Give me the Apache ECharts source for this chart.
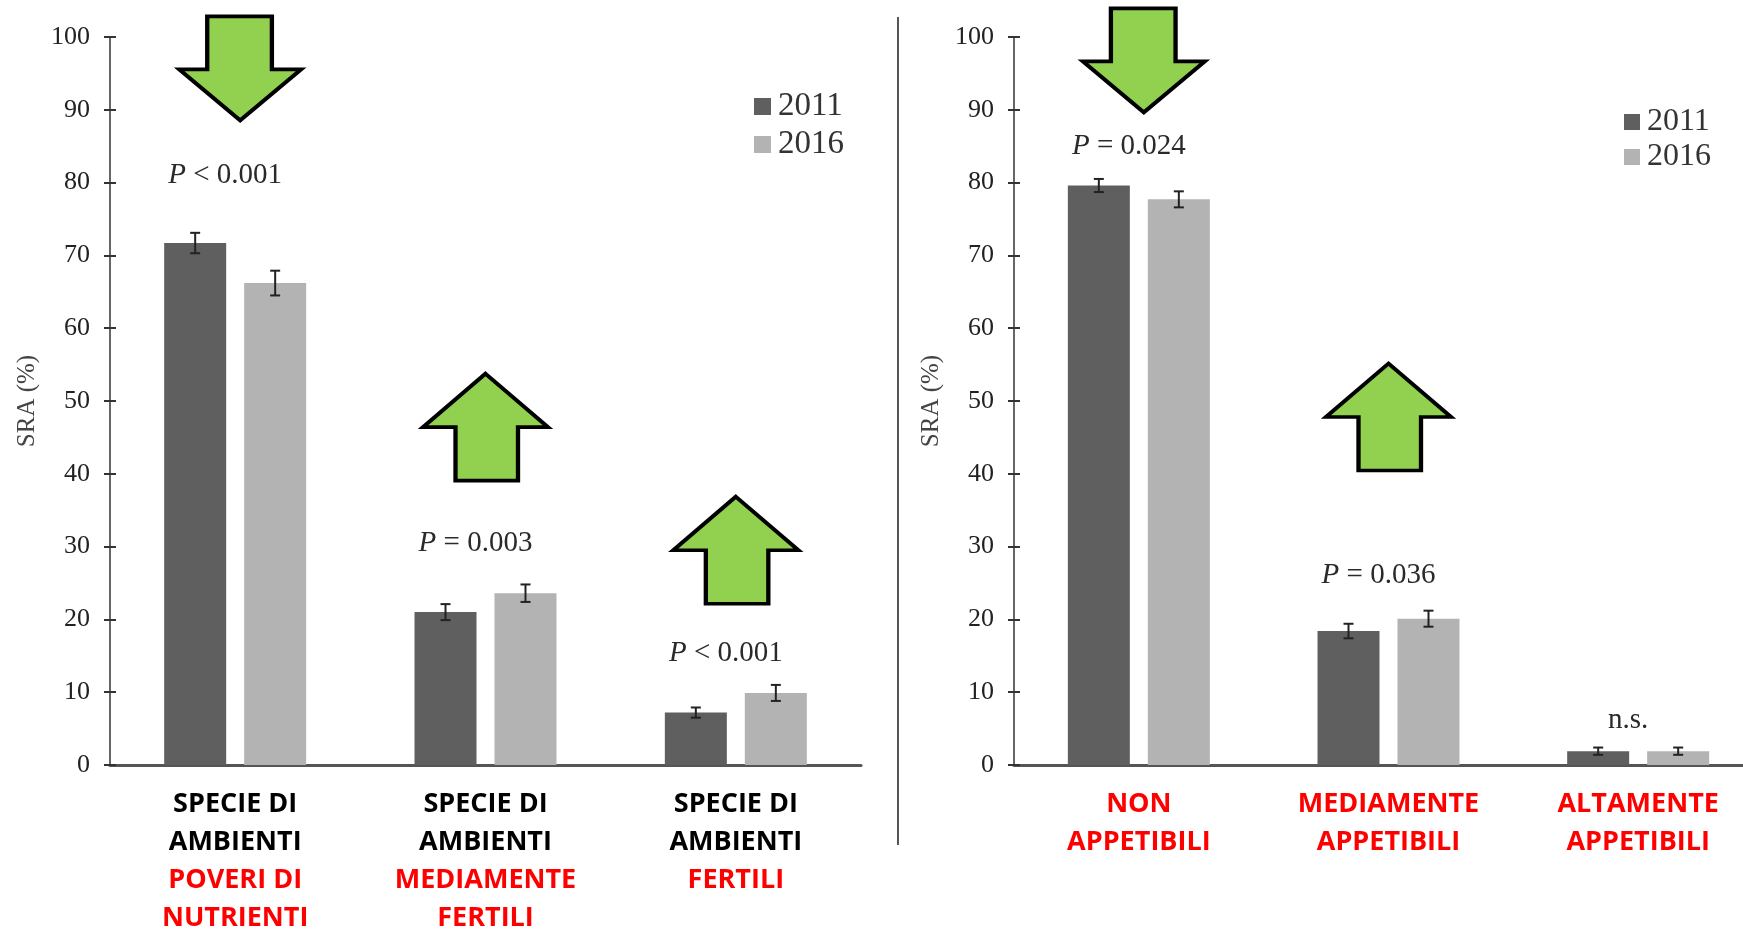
<!DOCTYPE html>
<html>
<head>
<meta charset="utf-8">
<style>
  html, body { margin: 0; padding: 0; background: #fff; }
  #myChart { width: 1743px; height: 929px; }
</style>
<script src="https://cdn.jsdelivr.net/npm/echarts@6/dist/echarts.min.js"></script>
</head>
<body>
<div id="myChart"></div>
<script>
// categorie (testo nero + testo rosso)
const leftBlack = ['SPECIE DI\nAMBIENTI', 'SPECIE DI\nAMBIENTI', 'SPECIE DI\nAMBIENTI']
const leftRed = ['POVERI DI\nNUTRIENTI', 'MEDIAMENTE\nFERTILI', 'FERTILI']
const rightRed = ['NON\nAPPETIBILI', 'MEDIAMENTE\nAPPETIBILI', 'ALTAMENTE\nAPPETIBILI']
const years = ['2011', '2016']
const yTicks = [0, 100, 10]

// SRA (%) e errori
const left2011 = [71.7, 21.0, 7.2]
const left2011Err = [1.4, 1.1, 0.7]
const left2016 = [66.2, 23.6, 9.9]
const left2016Err = [1.7, 1.2, 1.1]
const right2011 = [79.6, 18.4, 1.9]
const right2011Err = [0.9, 1.0, 0.5]
const right2016 = [77.7, 20.1, 1.9]
const right2016Err = [1.1, 1.1, 0.5]

// annotazioni P (testo, quota in unita' dell'asse)
const leftP = ['P| < 0.001', 'P| = 0.003', 'P| < 0.001']
const leftPy = [81.0, 30.5, 15.3]
const rightP = ['P| = 0.024', 'P| = 0.036', '|n.s.']
const rightPy = [85.0, 26.0, 6.1]

// frecce (direzione, quota del centro)
const leftArrows = [['down', 95.7], ['up', 46.4], ['up', 29.5]]
const rightArrows = [['down', 96.8], ['up', 47.8]]

const DARK = '#5f5f5f'
const LIGHT = '#b3b3b3'
const SERIF = '"Liberation Serif", "DejaVu Serif", serif'
const SANS = '"Open Sans", sans-serif'
const DOWN = 'path://M23,0L76,0L76,51L100,51L50,100L0,51L23,51Z'
const UP = 'path://M50,0L100,50L76,50L76,100L26,100L26,50L0,50Z'

let myChart = echarts.init(document.getElementById('myChart'))

function errBars (vals, errs) {
  return vals.map((v, i) => [i, v - errs[i], v + errs[i]])
}

function errSeries (idx, vals, errs, off) {
  return {
    type: 'custom',
    xAxisIndex: idx,
    yAxisIndex: idx * 2,
    z: 5,
    data: errBars(vals, errs),
    renderItem (params, api) {
      let lo = api.coord([api.value(0), api.value(1)])
      let hi = api.coord([api.value(0), api.value(2)])
      let x = lo[0] + off
      let st = { stroke: '#222', lineWidth: 2 }
      return {
        type: 'group',
        children: [
          { type: 'line', shape: { x1: x, y1: lo[1], x2: x, y2: hi[1] }, style: st },
          { type: 'line', shape: { x1: x - 5, y1: lo[1], x2: x + 5, y2: lo[1] }, style: st },
          { type: 'line', shape: { x1: x - 5, y1: hi[1], x2: x + 5, y2: hi[1] }, style: st }
        ]
      }
    }
  }
}

function pSeries (idx, texts, ys) {
  return {
    type: 'scatter',
    xAxisIndex: idx,
    yAxisIndex: idx * 2,
    symbolSize: 1,
    itemStyle: { color: 'rgba(0,0,0,0)', opacity: 1 },
    silent: true,
    data: texts.map((t, i) => [i, ys[i]]),
    label: {
      show: true,
      position: 'inside',
      offset: [-10, 0],
      formatter: p => {
        let parts = texts[p.dataIndex].split('|')
        return (parts[0] ? '{i|' + parts[0] + '}' : '') + '{n|' + parts[1] + '}'
      },
      rich: {
        i: { fontFamily: SERIF, fontSize: 29, fontStyle: 'italic', color: '#2a2a2a' },
        n: { fontFamily: SERIF, fontSize: 29, color: '#2a2a2a' }
      }
    }
  }
}

function arrowSeries (idx, arrows) {
  return {
    type: 'scatter',
    xAxisIndex: idx,
    yAxisIndex: idx * 2,
    clip: false,
    silent: true,
    z: 10,
    itemStyle: { color: '#92D050', borderColor: '#000', borderWidth: 4, opacity: 1 },
    data: arrows.map((a, i) => ({
      value: [i, a[1]],
      symbol: a[0] === 'down' ? DOWN : UP,
      symbolSize: a[0] === 'down' ? [122, 104] : [125, 107],
      symbolOffset: a[0] === 'down' ? [5, 0] : [0, 0]
    }))
  }
}

function yAxes (grid) {
  let base = {
    gridIndex: grid,
    type: 'value',
    position: 'left',
    min: yTicks[0],
    max: yTicks[1],
    interval: yTicks[2],
    splitLine: { show: false }
  }
  return [
    Object.assign({}, base, {
      name: 'SRA (%)',
      nameLocation: 'middle',
      nameGap: 70,
      nameTextStyle: { fontFamily: SERIF, fontSize: 25, color: '#444' },
      axisLine: { show: true, lineStyle: { color: '#333', width: 1.5 } },
      axisTick: { show: true, length: 6, lineStyle: { color: '#333', width: 2 } },
      axisLabel: { margin: 20, fontFamily: SERIF, fontSize: 26, color: '#222' }
    }),
    Object.assign({}, base, {
      axisLine: { show: false },
      axisTick: { show: true, inside: true, length: 6, lineStyle: { color: '#333', width: 2 } },
      axisLabel: { show: false }
    })
  ]
}

function xAxis (grid, labels) {
  return {
    gridIndex: grid,
    type: 'category',
    data: labels,
    axisLine: { lineStyle: { color: '#555', width: 3 } },
    axisTick: { show: false },
    axisLabel: {
      margin: 20,
      interval: 0,
      lineHeight: 38,
      formatter: labels === rightRed
        ? (v, i) => rightRed[i].split('\n').map(s => '{r|' + s + '}').join('\n')
        : (v, i) => leftBlack[i].split('\n').map(s => '{b|' + s + '}')
          .concat(leftRed[i].split('\n').map(s => '{r|' + s + '}')).join('\n'),
      rich: {
        b: { fontFamily: SANS, fontWeight: 'bold', fontSize: 27, color: '#000', lineHeight: 38 },
        r: { fontFamily: SANS, fontWeight: 'bold', fontSize: 27, color: '#ff0000', lineHeight: 38 }
      }
    }
  }
}

function bars (idx, name, vals, color) {
  return {
    name: name,
    type: 'bar',
    xAxisIndex: idx,
    yAxisIndex: idx * 2,
    barWidth: 62,
    barGap: '29%',
    itemStyle: { color: color },
    data: vals
  }
}

myChart.setOption({
  animation: false,
  backgroundColor: '#fff',
  grid: [
    { left: 110, top: 37, width: 751, height: 728, outerBoundsMode: 'none' },
    { left: 1014, top: 37, width: 749, height: 728, outerBoundsMode: 'none' }
  ],
  legend: [
    {
      data: years, orient: 'vertical', left: 749, top: 85, itemGap: 5,
      itemWidth: 17, itemHeight: 17, icon: 'rect',
      textStyle: { fontFamily: SERIF, fontSize: 33, color: '#333', padding: [0, 0, 0, 2] }
    },
    {
      data: years, orient: 'vertical', left: 1619, top: 101, itemGap: 3,
      itemWidth: 16, itemHeight: 16, icon: 'rect',
      textStyle: { fontFamily: SERIF, fontSize: 32, color: '#333', padding: [0, 0, 0, 2] }
    }
  ],
  xAxis: [xAxis(0, leftRed), xAxis(1, rightRed)],
  yAxis: yAxes(0).concat(yAxes(1)),
  graphic: [
    { type: 'line', shape: { x1: 898, y1: 17, x2: 898, y2: 845 }, style: { stroke: '#555', lineWidth: 2 } }
  ],
  series: [
    bars(0, years[0], left2011, DARK),
    bars(0, years[1], left2016, LIGHT),
    errSeries(0, left2011, left2011Err, -40),
    errSeries(0, left2016, left2016Err, 40),
    pSeries(0, leftP, leftPy),
    arrowSeries(0, leftArrows),
    bars(1, years[0], right2011, DARK),
    bars(1, years[1], right2016, LIGHT),
    errSeries(1, right2011, right2011Err, -40),
    errSeries(1, right2016, right2016Err, 40),
    pSeries(1, rightP, rightPy),
    arrowSeries(1, rightArrows)
  ]
})
</script>
</body>
</html>
